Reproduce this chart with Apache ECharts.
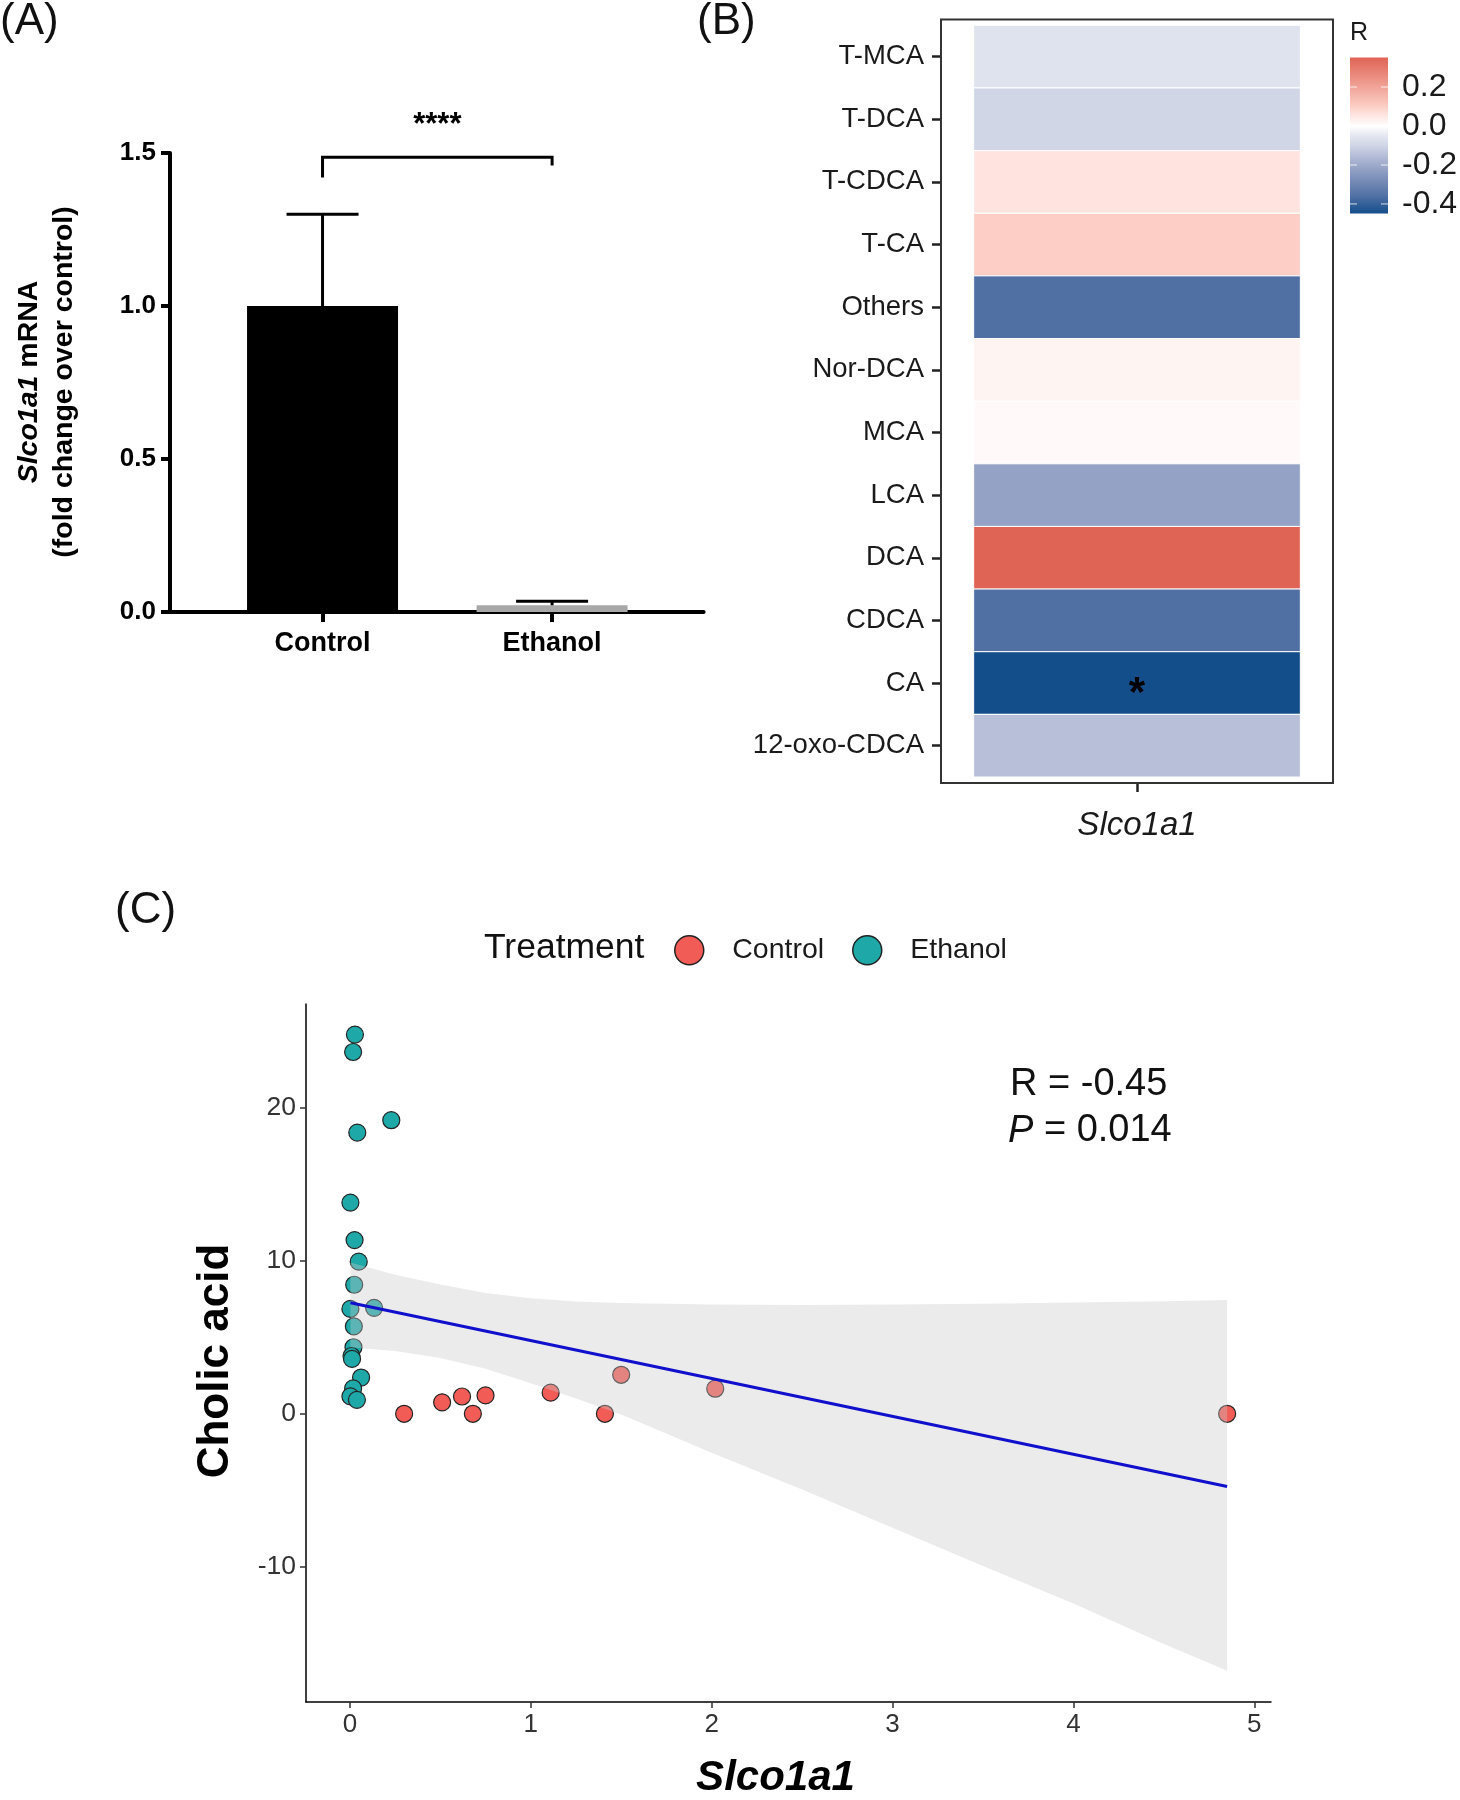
<!DOCTYPE html>
<html><head><meta charset="utf-8">
<script src="https://cdn.jsdelivr.net/npm/echarts@6/dist/echarts.min.js"></script>
<style>html,body{margin:0;padding:0;background:#fff}#c{width:1460px;height:1800px}</style>
</head><body><div id="c"></div>
<script>
// ---------- Panel A data ----------
const barGroups = ['Control', 'Ethanol'];
const barMeans = [1.0, 0.022];
const barErrTop = [1.30, 0.035];
const barYTicks = [0, 0.5, 1.0, 1.5];
const sigBracket = [1, 2, 1.486, 1.42, 1.459, 1.59]; // x1, x2, bar y, left end, right end, label y
const sigLabel = '****';

// ---------- Panel B data ----------
const bileAcids = ['T-MCA','T-DCA','T-CDCA','T-CA','Others','Nor-DCA','MCA','LCA','DCA','CDCA','CA','12-oxo-CDCA'];
const rValues = [-0.06,-0.10,0.06,0.10,-0.36,0.02,0.01,-0.22,0.35,-0.36,-0.45,-0.15];
const rSig = ['','','','','','','','','','','*',''];
const colorbarTicks = [0.2, 0.0, -0.2, -0.4];
const colorbarRange = [-0.449, 0.352];

// ---------- Panel C data ----------
const controlPts = [[0.30,0.0],[0.51,0.75],[0.62,1.13],[0.68,0.0],[0.75,1.2],[1.11,1.38],[1.41,0.0],[1.50,2.55],[2.02,1.64],[4.85,0.0]];
const ethanolPts = [[0.028,24.8],[0.018,23.66],[0.229,19.2],[0.041,18.39],[0.003,13.81],[0.026,11.36],[0.049,9.95],[0.024,8.44],[0.003,6.86],[0.134,6.93],[0.022,5.72],[0.02,4.35],[0.009,3.78],[0.012,3.59],[0.062,2.37],[0.018,1.66],[0.003,1.14],[0.039,0.91]];
const fitLine = [[0.003,7.26],[4.85,-4.75]];
const ribbonX = [0.003,0.25,0.5,0.75,1.0,1.25,1.5,2.0,2.5,3.0,3.5,4.0,4.5,4.85];
const ribbonUpper = [9.9,9.1,8.45,7.9,7.55,7.35,7.25,7.15,7.12,7.15,7.2,7.27,7.36,7.44];
const ribbonLower = [4.35,4.1,3.65,2.95,2.0,1.0,-0.05,-2.55,-4.95,-7.45,-9.95,-12.4,-15.05,-16.8];
const scatterXTicks = [0,1,2,3,4,5];
const scatterYTicks = [-10,0,10,20];
const statText = ['R = -0.45', '0.014'];

// ---------- styles ----------
const FONT = '"Liberation Sans", Arial, Helvetica, sans-serif';
const barColors = ['#000000', '#A8A8A8'];
const groupColors = {Control: '#F25C57', Ethanol: '#1EA8A8'};
const colorStops = [
  [-0.45,'#134E8A'],[-0.36,'#5070A4'],[-0.22,'#94A2C5'],[-0.15,'#B7BFD9'],[-0.10,'#D0D6E6'],
  [-0.06,'#DFE3EE'],[0.0,'#FFFFFF'],[0.02,'#FEF5F3'],[0.06,'#FEE3DF'],[0.10,'#FCCEC5'],[0.35,'#E06455']
];
function hexRgb(h){return [parseInt(h.substr(1,2),16),parseInt(h.substr(3,2),16),parseInt(h.substr(5,2),16)];}
function colorFor(v){
  if (v <= colorStops[0][0]) return colorStops[0][1];
  for (let i=0;i<colorStops.length-1;i++){
    const a=colorStops[i], b=colorStops[i+1];
    if (v>=a[0] && v<=b[0]){
      const t=(v-a[0])/(b[0]-a[0]); const ca=hexRgb(a[1]), cb=hexRgb(b[1]);
      const c=ca.map((x,k)=>Math.round(x+(cb[k]-x)*t));
      return 'rgb('+c.join(',')+')';
    }
  }
  return colorStops[colorStops.length-1][1];
}

// colorbar geometry (legend)
const cb = {x:1350, y:57.4, w:38, h:156.1};
function cbY(v){return cb.y + (colorbarRange[1]-v)/(colorbarRange[1]-colorbarRange[0])*cb.h;}
const cbGradStops = colorStops.map(s=>({offset: Math.min(1,Math.max(0,(colorbarRange[1]-s[0])/(colorbarRange[1]-colorbarRange[0]))), color: s[1]})).sort((a,b)=>a.offset-b.offset);

const graphics = [
  {type:'text', x:0, y:22, style:{text:'(A)', font:'44px '+FONT, fill:'#111', verticalAlign:'middle'}},
  {type:'text', x:697, y:22, style:{text:'(B)', font:'44px '+FONT, fill:'#111', verticalAlign:'middle'}},
  {type:'text', x:115, y:911, style:{text:'(C)', font:'44px '+FONT, fill:'#111', verticalAlign:'middle'}},
  {type:'text', x:47, y:382, rotation:Math.PI/2, style:{
    text:'{i|Slco1a1}{b| mRNA}\n{b|(fold change over control)}',
    align:'center', verticalAlign:'middle', lineHeight:35,
    rich:{i:{font:'italic bold 28.5px '+FONT, fill:'#000', lineHeight:35}, b:{font:'bold 28.5px '+FONT, fill:'#000', lineHeight:35}}
  }},
  {type:'rect', shape:{x:941, y:19.5, width:392, height:763.5}, style:{fill:null, stroke:'#333', lineWidth:2}, z:10},
  {type:'text', x:1350, y:33, style:{text:'R', font:'25px '+FONT, fill:'#1a1a1a', verticalAlign:'middle'}},
  {type:'rect', shape:{x:cb.x, y:cb.y, width:cb.w, height:cb.h}, style:{fill:{type:'linear', x:0, y:0, x2:0, y2:1, colorStops:cbGradStops}}},
  {type:'text', x:484, y:948, style:{text:'Treatment', font:'35.5px '+FONT, fill:'#111', verticalAlign:'middle'}},
  {type:'text', x:1010, y:1085, style:{text:statText[0], font:'38px '+FONT, fill:'#111', verticalAlign:'middle'}},
  {type:'text', x:1008, y:1131, style:{text:'{i|P} = '+statText[1], verticalAlign:'middle', font:'38px '+FONT, fill:'#111',
    rich:{i:{font:'italic 38px '+FONT, fill:'#111'}}}}
];
colorbarTicks.forEach(v=>{
  const y=cbY(v);
  graphics.push({type:'line', shape:{x1:cb.x, y1:y, x2:cb.x+7, y2:y}, style:{stroke:'rgba(255,255,255,0.8)', lineWidth:1}});
  graphics.push({type:'line', shape:{x1:cb.x+cb.w-7, y1:y, x2:cb.x+cb.w, y2:y}, style:{stroke:'rgba(255,255,255,0.8)', lineWidth:1}});
  graphics.push({type:'text', x:1402, y:y, style:{text:v.toFixed(1), font:'32px '+FONT, fill:'#1a1a1a', verticalAlign:'middle'}});
});

const chart = echarts.init(document.getElementById('c'), null, {renderer:'canvas'});
const option = {
  backgroundColor:'#fff',
  animation:false,
  textStyle:{fontFamily:FONT},
  grid:[
    {left:170, width:533.6, top:153, height:459, containLabel:false},
    {left:941, width:392, top:25.3, height:751.7},
    {left:306, width:965, top:1004, height:706}
  ],
  xAxis:[
    {gridIndex:0, type:'value', min:0.3355, max:2.66,
      axisLine:{show:true, onZero:false, lineStyle:{color:'#000', width:4}},
      axisTick:{show:true, length:10, customValues:[1,2], lineStyle:{color:'#000', width:4}},
      axisLabel:{customValues:[1,2], formatter:v=>barGroups[Math.round(v)-1], margin:18, color:'#000', fontWeight:'bold', fontSize:27},
      splitLine:{show:false}},
    {gridIndex:1, type:'value', min:0.4, max:1.6, offset:6,
      axisLine:{show:false},
      axisTick:{show:true, length:9, customValues:[1], lineStyle:{color:'#222', width:2.5}},
      axisLabel:{customValues:[1], formatter:()=>'Slco1a1', margin:26, color:'#1a1a1a', fontStyle:'italic', fontSize:33},
      splitLine:{show:false}},
    {gridIndex:2, type:'value', min:-0.2425, max:5.0925,
      axisLine:{show:true, onZero:false, lineStyle:{color:'#000', width:1.5}},
      axisTick:{show:true, length:6, customValues:scatterXTicks, lineStyle:{color:'#333', width:1.5}},
      axisLabel:{customValues:scatterXTicks, margin:10, color:'#333', fontSize:26},
      splitLine:{show:false},
      name:'Slco1a1', nameLocation:'middle', nameGap:55,
      nameTextStyle:{fontSize:42, fontWeight:'bold', fontStyle:'italic', color:'#000', padding:[0,26,0,0]}}
  ],
  yAxis:[
    {gridIndex:0, type:'value', min:0, max:1.5, interval:0.5,
      axisLine:{show:true, onZero:false, lineStyle:{color:'#000', width:4}},
      axisTick:{show:true, length:9, lineStyle:{color:'#000', width:4}},
      axisLabel:{formatter:v=>v.toFixed(1), margin:14, color:'#000', fontWeight:'bold', fontSize:26},
      splitLine:{show:false}},
    {gridIndex:1, type:'category', data:bileAcids, inverse:true,
      axisLine:{show:false},
      axisTick:{show:true, alignWithLabel:true, length:9, lineStyle:{color:'#222', width:2.5}},
      axisLabel:{margin:17, color:'#1a1a1a', fontSize:27.5},
      splitLine:{show:false}},
    {gridIndex:2, type:'value', min:-18.85, max:26.8,
      axisLine:{show:true, onZero:false, lineStyle:{color:'#000', width:1.5}},
      axisTick:{show:true, length:6, customValues:scatterYTicks, lineStyle:{color:'#333', width:1.5}},
      axisLabel:{customValues:scatterYTicks, margin:10, color:'#333', fontSize:26.5},
      splitLine:{show:false},
      name:'Cholic acid', nameLocation:'middle', nameGap:68, nameRotate:90,
      nameTextStyle:{fontSize:44, fontWeight:'bold', color:'#000', padding:[0,16,0,0]}}
  ],
  legend:[
    {data:['Control'], left:669, top:930, itemWidth:50, itemHeight:29, icon:'circle', selectedMode:false,
      itemStyle:{borderColor:'#222', borderWidth:1.5},
      textStyle:{fontSize:28.5, color:'#1a1a1a', padding:[0,0,0,13]}},
    {data:['Ethanol'], left:847, top:930, itemWidth:50, itemHeight:29, icon:'circle', selectedMode:false,
      itemStyle:{borderColor:'#222', borderWidth:1.5},
      textStyle:{fontSize:28.5, color:'#1a1a1a', padding:[0,0,0,13]}}
  ],
  graphic: graphics,
  series:[
    // Panel A bars
    {type:'bar', xAxisIndex:0, yAxisIndex:0, barWidth:151, silent:true,
      data: barGroups.map((g,i)=>({value:[i+1, barMeans[i]], itemStyle:{color:barColors[i]}}))},
    // Panel A error bars
    {type:'custom', xAxisIndex:0, yAxisIndex:0, silent:true, z:5,
      data: barGroups.map((g,i)=>[i+1, barMeans[i], barErrTop[i]]),
      encode:{x:0, y:[1,2]},
      renderItem:function(params, api){
        const x=api.value(0);
        const b=api.coord([x, api.value(1)]), t=api.coord([x, api.value(2)]);
        return {type:'group', children:[
          {type:'line', shape:{x1:b[0], y1:b[1], x2:t[0], y2:t[1]}, style:{stroke:'#000', lineWidth:3}},
          {type:'line', shape:{x1:t[0]-36, y1:t[1], x2:t[0]+36, y2:t[1]}, style:{stroke:'#000', lineWidth:3}}
        ]};
      }},
    // Panel A significance bracket
    {type:'custom', xAxisIndex:0, yAxisIndex:0, silent:true, clip:false, z:5,
      data:[sigBracket], encode:{x:[0,1], y:[2,3,4,5]},
      renderItem:function(params, api){
        const x1=api.value(0), x2=api.value(1);
        const a=api.coord([x1, api.value(3)]), b=api.coord([x1, api.value(2)]);
        const c=api.coord([x2, api.value(2)]), d=api.coord([x2, api.value(4)]);
        const m=api.coord([(x1+x2)/2, api.value(5)]);
        return {type:'group', children:[
          {type:'polyline', shape:{points:[a,b,c,d]}, style:{stroke:'#000', lineWidth:3, fill:null}},
          {type:'text', x:m[0], y:m[1], style:{text:sigLabel, font:'bold 31px '+FONT, fill:'#000', align:'center', verticalAlign:'middle'}}
        ]};
      }},
    // Panel B heatmap tiles
    {type:'custom', xAxisIndex:1, yAxisIndex:1, silent:true,
      data: bileAcids.map((c,i)=>[1, i, rValues[i]]),
      encode:{x:0, y:1},
      renderItem:function(params, api){
        const idx=api.value(1), v=api.value(2);
        const p0=api.coord([0.5, idx]), p1=api.coord([1.5, idx]);
        const h=api.size([0,1])[1];
        const ch=[{type:'rect', shape:{x:p0[0], y:p0[1]-h/2, width:p1[0]-p0[0], height:h},
          style:{fill:colorFor(v), stroke:'#fff', lineWidth:1}}];
        const s=rSig[params.dataIndex];
        if (s) ch.push({type:'text', x:(p0[0]+p1[0])/2, y:p0[1]+11, style:{text:s, font:'bold 42px '+FONT, fill:'#000', align:'center', verticalAlign:'middle'}});
        return {type:'group', children:ch};
      }},
    // Panel C scatter
    {name:'Control', type:'scatter', xAxisIndex:2, yAxisIndex:2, data:controlPts, symbolSize:17, z:2,
      itemStyle:{color:groupColors.Control, borderColor:'#222', borderWidth:1.2, opacity:1}},
    {name:'Ethanol', type:'scatter', xAxisIndex:2, yAxisIndex:2, data:ethanolPts, symbolSize:17, z:2,
      itemStyle:{color:groupColors.Ethanol, borderColor:'#222', borderWidth:1.2, opacity:1}},
    // Panel C confidence ribbon
    {type:'custom', xAxisIndex:2, yAxisIndex:2, silent:true, z:3,
      data: ribbonX.map((x,i)=>[x, ribbonLower[i], ribbonUpper[i]]),
      encode:{x:0, y:[1,2]},
      renderItem:function(params, api){
        if (params.dataIndex!==0) return null;
        const pts=[];
        for (let i=0;i<ribbonX.length;i++) pts.push(api.coord([ribbonX[i], ribbonUpper[i]]));
        for (let i=ribbonX.length-1;i>=0;i--) pts.push(api.coord([ribbonX[i], ribbonLower[i]]));
        return {type:'polygon', shape:{points:pts}, style:{fill:'rgba(200,200,200,0.37)'}};
      }},
    // Panel C fitted line
    {type:'line', xAxisIndex:2, yAxisIndex:2, data:fitLine, symbol:'none', silent:true, z:4,
      lineStyle:{color:'#1010CC', width:3}}
  ]
};
chart.setOption(option);
</script></body></html>
